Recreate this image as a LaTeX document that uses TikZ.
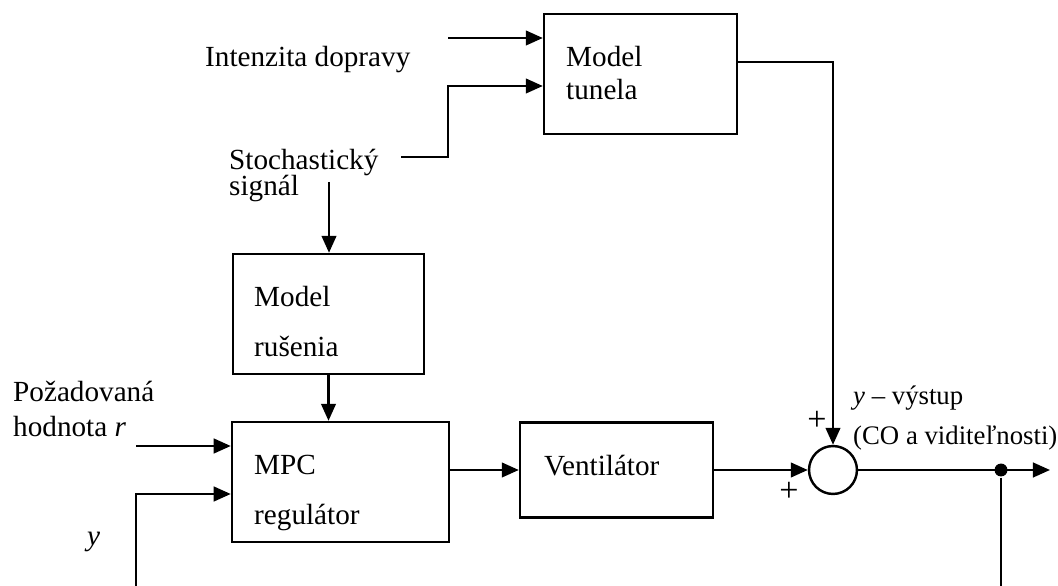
\documentclass[tikz,border=0pt]{standalone}
\usepackage{fontspec}
\setmainfont{Liberation Serif}
\usetikzlibrary{arrows.meta}

\begin{document}
\begin{tikzpicture}[x=0.411pt, y=-0.411pt, line width=1pt,
    every node/.style={font=\fontsize{12}{14}\selectfont}]
    \tikzstyle{sip}=[-{Triangle[length=7pt,width=6pt]}]
    \tikzstyle{blok}=[draw, rectangle, inner sep=0pt]
    \tikzstyle{popis}=[anchor=base west, inner sep=0pt]
    \tikzstyle{maly}=[popis, font=\fontsize{11}{13}\selectfont]

    \useasboundingbox (0,0) rectangle (1058,586);

    % bloky
    \node[blok, minimum width=79.3pt, minimum height=49.3pt] (tunel) at (640.5,74) {};
    \node[blok, minimum width=78.5pt, minimum height=49.3pt] (rusenie) at (328.5,314) {};
    \node[blok, minimum width=89.2pt, minimum height=49.3pt] (mpc) at (340.5,482) {};
    \node[blok, minimum width=79.3pt, minimum height=39pt] (vent) at (616.5,470) {};
    \node[draw, circle, inner sep=0pt, minimum size=19.7pt] (sum) at (833,470) {};
    \node[fill, circle, inner sep=0pt, minimum size=5.3pt] (bod) at (1001,470) {};

    % texty v blokoch
    \node[popis] (tunel1) at (565,67) {Model};
    \node[popis] (tunel2) at (565,100) {tunela};
    \node[popis] (rus1) at (253,307) {Model};
    \node[popis] (rus2) at (253,357) {rušenia};
    \node[popis] (mpc1) at (253,475) {MPC};
    \node[popis] (mpc2) at (253,525) {regulátor};
    \node[popis] (vent1) at (543,476) {Ventilátor};

    % vstupy a vystupy
    \node[popis] (intenz) at (204,67) {Intenzita dopravy};
    \node[popis] (stoch1) at (228,170) {Stochastický};
    \node[popis] (stoch2) at (228,196) {signál};
    \node[popis] (poz1) at (12,402) {Požadovaná};
    \node[popis] (poz2) at (12,437) {hodnota \textit{r}};
    \node[popis] (ylab) at (86,546) {\textit{y}};
    \node[maly] (vys1) at (852,405) {\textit{y} – výstup};
    \node[maly] (vys2) at (852,445) {(CO a viditeľnosti)};
    \node[font=\fontsize{14}{16}\selectfont] (plus1) at (817,421) {+};
    \node[font=\fontsize{14}{16}\selectfont] (plus2) at (789,492) {+};

    \coordinate (in1) at (448,38);
    \coordinate (s0) at (401,157);
    \coordinate (s1) at (448,86);
    \coordinate (s2) at (329,182);
    \coordinate (r0) at (136,446);
    \coordinate (y0) at (136,586);
    \coordinate (y1) at (136,494);
    \coordinate (t1) at (833,62);
    \coordinate (out) at (1050,470);
    \coordinate (fb) at (1001,586);

    % spojenia
    \draw[sip] (in1) -- (tunel.west |- in1);
    \draw[sip] (s0) -| (s1) -- (tunel.west |- s1);
    \draw[sip] (s2) -- (s2 |- rusenie.north);
    \draw[sip] (rusenie.south) -- (rusenie.south |- mpc.north);
    \draw[sip] (r0) -- (mpc.west |- r0);
    \draw[sip] (y0) -- (y1) -- (mpc.west |- y1);
    \draw[sip] (mpc.east |- vent.west) -- (vent.west);
    \draw[sip] (vent.east) -- (sum.west);
    \draw[sip] (tunel.east |- t1) -- (t1) -- (sum.north);
    \draw[sip] (sum.east) -- (out);
    \draw (bod) -- (fb);

\end{tikzpicture}
\end{document}
